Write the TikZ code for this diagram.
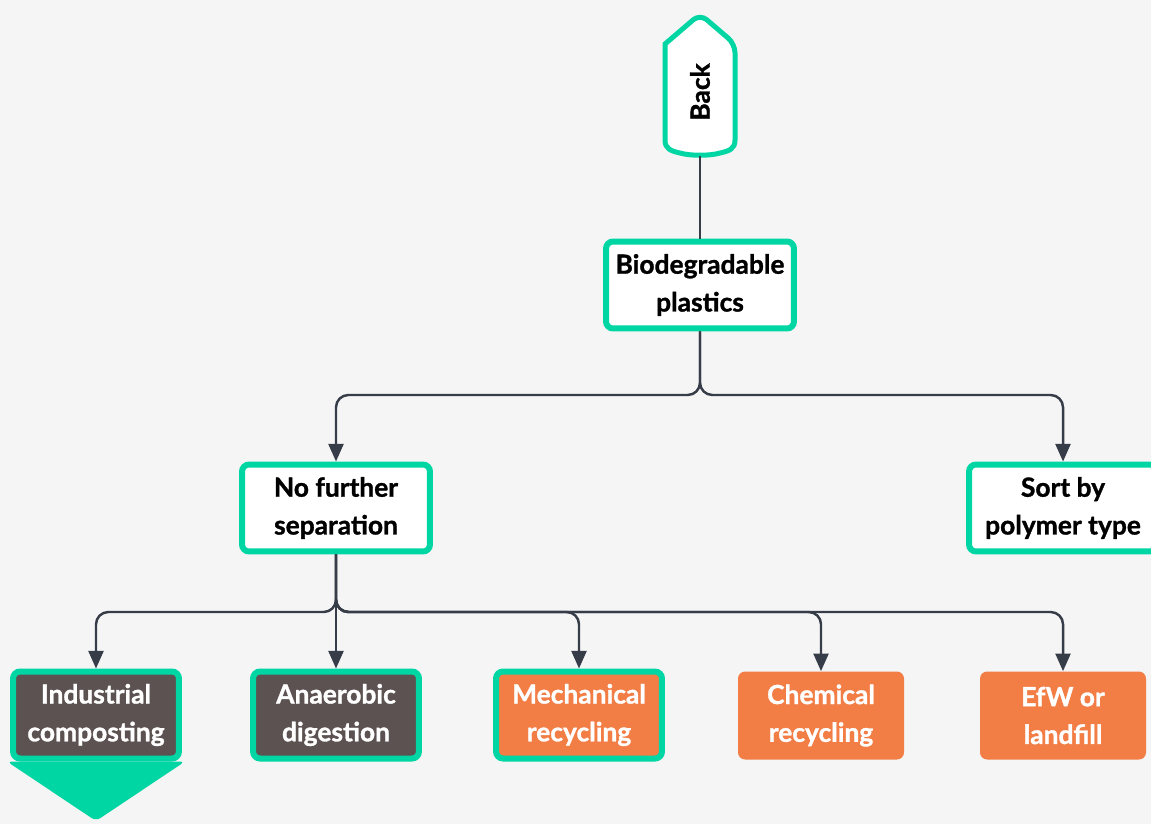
\documentclass[tikz,border=0pt]{standalone}
\usepackage{fontspec}
\setmainfont{Lato}[BoldFeatures={FakeBold=1.2}]
\usetikzlibrary{arrows.meta}

\definecolor{mint}{HTML}{00D5A4}
\definecolor{carrot}{HTML}{F27D45}
\definecolor{slate}{HTML}{5C5252}
\definecolor{inkline}{HTML}{373D48}
\definecolor{paper}{HTML}{F5F5F5}

\tikzset{
    box/.style={rectangle, rounded corners=4pt, align=center,
        font=\bfseries\fontsize{15}{21.5}\selectfont},
    choice/.style={box, draw=mint, line width=0.12cm, fill=white,
        minimum width=3.76cm, minimum height=1.74cm},
    route/.style={box, text=white, minimum width=3.32cm, minimum height=1.74cm},
    picked/.style={route, draw=mint, line width=0.12cm},
    link/.style={draw=inkline, line width=1.4pt, rounded corners=7pt,
        -{Triangle[length=10pt,width=8.5pt]}},
}

\begin{document}
\begin{tikzpicture}[x=0.02cm,y=-0.02cm]
    \fill [paper] (0,0) rectangle (1151,824);
    \useasboundingbox (0,0) rectangle (1151,824);

    % back tab
    \draw [mint, line width=0.1cm, fill=white, rounded corners=5pt]
        (700,14) -- (735,44) [sharp corners] -- (735,140)
        .. controls (735,149) and (729,151) .. (720,153)
        .. controls (710,156) and (690,156) .. (680,153)
        .. controls (671,151) and (665,149) .. (665,140)
        -- (665,44) [rounded corners=5pt] -- cycle;
    \node (back) at (700,92) [rotate=90, font=\bfseries\fontsize{15}{18}\selectfont] {Back};
    \coordinate (backend) at (700,156);

    % tree
    \node (bio)  at (700,285) [choice] {Biodegradable\\plastics};
    \node (nofurther) at (336,508) [choice] {No further\\separation};
    \node (sort) at (1063,508) [choice] {Sort by\\polymer type};

    \node (ind)  at (96,715)  [picked, fill=slate] {Industrial\\composting};
    \node (anae) at (336,715) [picked, fill=slate] {Anaerobic\\digestion};
    \node (mech) at (579,715) [picked, fill=carrot] {Mechanical\\recycling};
    \node (chem) at (821,715.5) [route, fill=carrot, minimum height=1.76cm] {Chemical\\recycling};
    \node (efw)  at (1063,715.5) [route, fill=carrot, minimum height=1.76cm] {EfW or\\landfill};

    % pointer under the chosen route
    \fill [mint, rounded corners=3pt]
        ([xshift=-0.06cm]ind.south west) -- ([xshift=0.06cm]ind.south east)
        -- (96,821) -- cycle;

    \coordinate (split1) at (700,395);
    \coordinate (split2) at (336,612);

    \draw [inkline, line width=1.4pt] (backend) -- (bio);
    \draw [link] (bio) -- (split1) -| (nofurther);
    \draw [link] (bio) -- (split1) -| (sort);
    \draw [link] (nofurther) -- (anae);
    \foreach \n in {ind,mech,chem,efw}{%
        \draw [link] (nofurther) -- (split2) -| (\n);}
\end{tikzpicture}
\end{document}
